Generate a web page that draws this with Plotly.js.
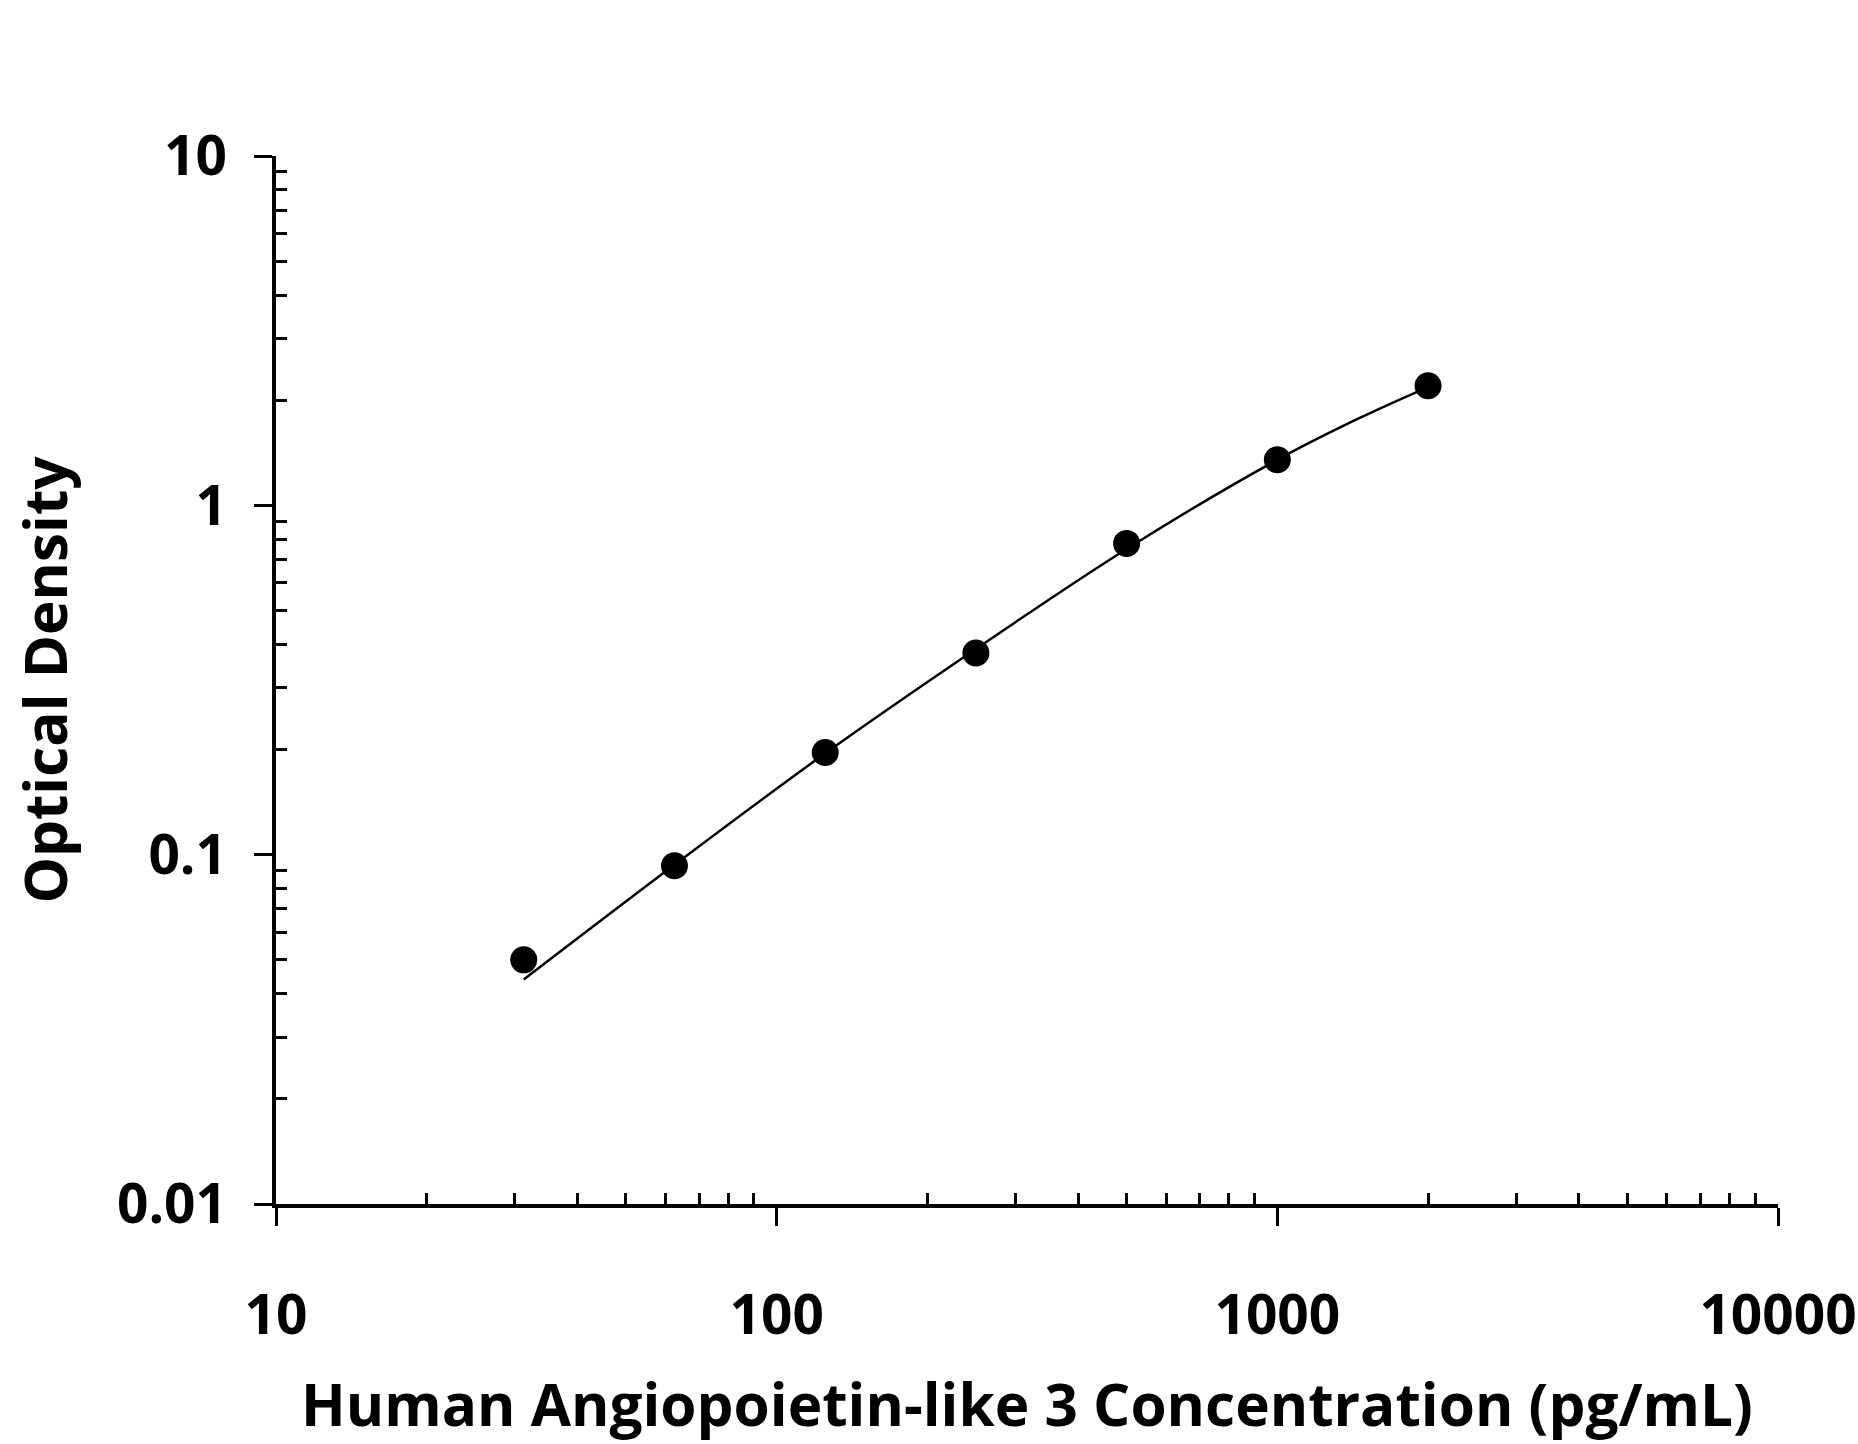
<!DOCTYPE html>
<html>
<head>
<meta charset="utf-8">
<script src="https://cdn.plot.ly/plotly-3.0.1.min.js"></script>
<style>
  html, body { margin: 0; padding: 0; background: #ffffff; }
  #chart { width: 1858px; height: 1444px; }
</style>
</head>
<body>
<div id="chart"></div>
<script>
// standards (pg/mL) and measured optical density
const concentration = [31.25, 62.5, 125, 250, 500, 1000, 2000];
const opticalDensity = [0.050, 0.093, 0.196, 0.378, 0.778, 1.35, 2.20];

// fitted curve
const fitX = [31.25, 62.5, 125, 250, 500, 1000, 1450, 2000];
const fitY = [0.0439, 0.0935, 0.195, 0.388, 0.75, 1.35, 1.77, 2.18];

const xTickVals = [10, 100, 1000, 10000];
const xTickText = ['10', '100', '1000', '10000'];
const yTickVals = [0.01, 0.1, 1, 10];
const yTickText = ['0.01', '0.1', '1', '10'];

const xTitle = 'Human Angiopoietin-like 3 Concentration (pg/mL)';
const yTitle = 'Optical Density';

const FONT = 'Open Sans, Noto Sans, DejaVu Sans, sans-serif';

// minor ticks at 2..9 of every decade
function minorTicks(fromExp, toExp) {
  const vals = [];
  for (let e = fromExp; e < toExp; e += 1) {
    for (let m = 2; m <= 9; m += 1) {
      vals.push(m * Math.pow(10, e));
    }
  }
  return vals;
}

const traces = [
  {
    // fit line
    type: 'scatter',
    mode: 'lines',
    x: fitX,
    y: fitY,
    line: { color: '#000000', width: 2.5, shape: 'spline', smoothing: 1 },
    hoverinfo: 'skip',
  },
  {
    // standards
    type: 'scatter',
    mode: 'markers',
    x: concentration,
    y: opticalDensity,
    marker: { color: '#000000', size: 27, line: { width: 0 } },
  },
];

const layout = {
  width: 1858,
  height: 1444,
  paper_bgcolor: '#ffffff',
  plot_bgcolor: '#ffffff',
  showlegend: false,
  margin: { l: 276, r: 80, t: 156, b: 240 },
  font: { family: FONT, color: '#000000' },
  xaxis: {
    type: 'log',
    range: [1, 4],
    showgrid: false,
    zeroline: false,
    showline: true,
    linecolor: '#000000',
    linewidth: 4,
    ticks: 'outside',
    ticklen: 18,
    tickwidth: 3,
    tickcolor: '#000000',
    tickvals: xTickVals,
    ticktext: xTickText,
    ticklabelstandoff: 42,
    tickfont: { family: FONT, size: 55, weight: 700, color: '#000000' },
    minor: {
      tickvals: minorTicks(1, 4),
      ticks: 'inside',
      ticklen: 11,
      tickwidth: 3,
      tickcolor: '#000000',
      showgrid: false,
    },
  },
  yaxis: {
    type: 'log',
    range: [-2, 1],
    showgrid: false,
    zeroline: false,
    showline: true,
    linecolor: '#000000',
    linewidth: 4,
    ticks: 'outside',
    ticklen: 18,
    tickwidth: 3,
    tickcolor: '#000000',
    tickvals: yTickVals,
    ticktext: yTickText,
    ticklabelstandoff: 16,
    tickfont: { family: FONT, size: 55, weight: 700, color: '#000000' },
    minor: {
      tickvals: minorTicks(-2, 1),
      ticks: 'inside',
      ticklen: 11,
      tickwidth: 3,
      tickcolor: '#000000',
      showgrid: false,
    },
    title: {
      text: yTitle,
      standoff: 31,
      font: { family: FONT, size: 58.5, weight: 700, color: '#000000' },
    },
  },
  // x title as an annotation so it can sit lower than the axis title allows
  annotations: [
    {
      text: xTitle,
      xref: 'paper',
      yref: 'paper',
      x: 0.5,
      y: -0.19,
      xanchor: 'center',
      yanchor: 'middle',
      showarrow: false,
      font: { family: FONT, size: 58.5, weight: 700, color: '#000000' },
    },
  ],
};

Plotly.newPlot('chart', traces, layout, { displayModeBar: false, staticPlot: true });
</script>
</body>
</html>
